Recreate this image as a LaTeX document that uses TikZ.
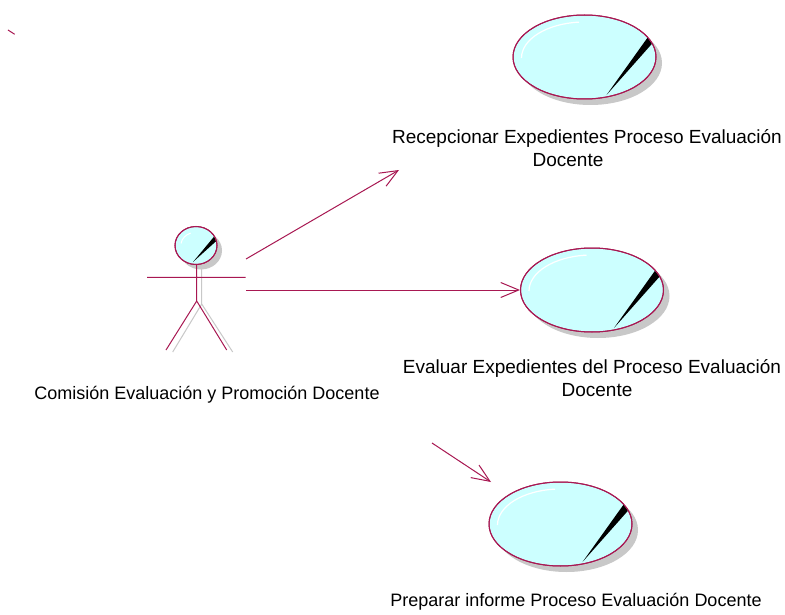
\documentclass[tikz,border=0pt]{standalone}
\usepackage{fontspec}
\setmainfont{Liberation Sans}
\usetikzlibrary{arrows.meta,shadows,shapes.geometric}

\definecolor{umlline}{RGB}{168,24,82}
\definecolor{ucfill}{RGB}{204,255,255}
\definecolor{ucshadow}{RGB}{200,200,200}

\tikzset{
  uml/.style={draw=umlline, line width=1pt},
  ucshade/.style={drop shadow={shadow xshift=6pt, shadow yshift=-6pt, fill=ucshadow, opacity=1}},
  usecase/.style={ellipse, draw=umlline, line width=1pt, fill=ucfill,
    minimum width=143pt, minimum height=84pt, inner sep=0pt, ucshade},
  actorhead/.style={ellipse, draw=umlline, line width=1pt, fill=ucfill,
    minimum width=42pt, minimum height=38pt, inner sep=0pt,
    drop shadow={shadow xshift=5pt, shadow yshift=-5pt, fill=ucshadow, opacity=1}},
  limb/.style={draw=umlline, line width=1pt},
  limbshade/.style={draw=ucshadow, line width=1pt},
  assoc/.style={draw=umlline, line width=1pt,
    -{Straight Barb[length=18pt, width=15pt, line width=1pt]}},
  lbl/.style={align=center, inner sep=0pt, font=\fontsize{18}{23}\selectfont},
  lblwide/.style={lbl, font=\fontsize{19}{23}\selectfont},
}

% gloss highlight and needle of a use-case bubble
\newcommand\ucdeco[1]{%
  \begin{scope}
    \clip (#1.center) ellipse [x radius=71, y radius=41.5];
    \draw[white, line width=1.2pt] ([shift={(-63,1)}]#1.center)
      arc[start angle=180, end angle=265, x radius=63, y radius=36];
    \fill[black] ([shift={(22,38)}]#1.center) -- ([shift={(69,-15)}]#1.center)
      -- ([shift={(63.5,-20)}]#1.center) -- cycle;
  \end{scope}
  \draw[umlline, line width=1pt] (#1.center) ellipse [x radius=71.5, y radius=42];
}

\begin{document}
\begin{tikzpicture}[x=1pt, y=-1pt]
  \fill[white] (0,0) rectangle (785,615);
  \useasboundingbox (0,0) rectangle (785,615);

  % stray mark
  \coordinate (m1) at (8,30);
  \coordinate (m2) at (14.7,34.3);
  \draw[uml] (m1) -- (m2);

  % use cases
  \node[usecase] (uc1) at (584.5,57) {};
  \ucdeco{uc1}
  \node[usecase] (uc2) at (592,290) {};
  \ucdeco{uc2}
  \node[usecase] (uc3) at (560.5,524) {};
  \ucdeco{uc3}

  \node[lblwide] (t1) at (587,148.5) {Recepcionar Expedientes Proceso Evaluación\\Docente\hspace*{38pt}};
  \node[lblwide] (t2) at (592,378) {Evaluar Expedientes del Proceso Evaluación\\\hspace*{10pt}Docente};
  \node[lbl] (t3) at (576,602) {Preparar informe Proceso Evaluación Docente};

  % actor
  \coordinate (neck) at (196.7,264);
  \coordinate (hip) at (196.7,301);
  \coordinate (neckS) at (201.7,264);
  \coordinate (hipS) at (201.7,304);
  \coordinate (footLS) at (172.7,352);
  \coordinate (footRS) at (232.7,352);
  \coordinate (footL) at (166,350);
  \coordinate (footR) at (226.7,350);
  \coordinate (armL) at (147,277.3);
  \coordinate (armR) at (245.7,277.3);
  \draw[limbshade] (neckS) -- (hipS) (hipS) -- (footLS) (hipS) -- (footRS);
  \node[actorhead] (head) at (196,245.5) {};
  \begin{scope}
    \clip (head.center) ellipse [x radius=20.5, y radius=18.5];
    \draw[white, line width=1pt] ([shift={(-15,-2)}]head.center)
      arc[start angle=188, end angle=250, x radius=15, y radius=13];
    \fill[black] ([shift={(-3,16.5)}]head.center) -- ([shift={(22,-6)}]head.center)
      -- ([shift={(19,-10)}]head.center) -- cycle;
  \end{scope}
  \draw[umlline, line width=1pt] (head.center) ellipse [x radius=21, y radius=19];
  \draw[limb] (neck) -- (hip) (hip) -- (footL) (hip) -- (footR) (armL) -- (armR);
  \node[lbl] (actorlbl) at (207,395) {Comisión Evaluación y Promoción Docente};

  % associations
  \coordinate (a1s) at (246,259);
  \coordinate (a1e) at (399,170);
  \coordinate (a2s) at (246,290);
  \coordinate (a3s) at (432,443);
  \coordinate (a3e) at (491,482);
  \draw[assoc] (a1s) -- (a1e);
  \draw[assoc] (a2s) -- (uc2.west);
  \draw[assoc] (a3s) -- (a3e);
\end{tikzpicture}
\end{document}
